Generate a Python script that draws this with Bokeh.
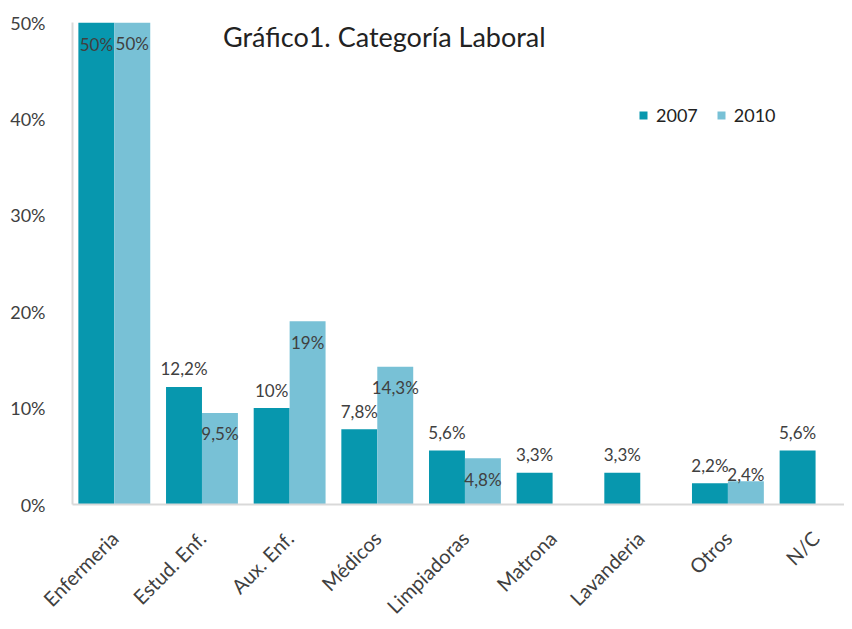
import math
import numpy as np
from bokeh.plotting import figure
from bokeh.models import (ColumnDataSource, Label, Legend, LegendItem, FixedTicker,
                          Range1d, PrintfTickFormatter)
from bokeh.core.properties import value
from bokeh.embed import file_html
from bokeh.resources import INLINE

categories = ["Enfermeria", "Estud. Enf.", "Aux. Enf.", "Médicos", "Limpiadoras",
              "Matrona", "Lavanderia", "Otros", "N/C"]
v2007 = [50, 12.2, 10, 7.8, 5.6, 3.3, 3.3, 2.2, 5.6]
v2010 = [50, 9.5, 19, 14.3, 4.8, None, None, 2.4, None]
series_names = ["2007", "2010"]
y_ticks = [0, 10, 20, 30, 40, 50]
title_text = "Gráfico1. Categoría Laboral"

C07 = "#0797AE"
C10 = "#78C1D6"
TXT = "#404040"
FONT = "Lato"

def fmt(v):
    if float(v).is_integer():
        return f"{v:.0f}%"
    return f"{v:.1f}".replace(".", ",") + "%"

dodge = 0.205
bw = 0.41
idx = np.arange(len(categories))

x07 = [i - dodge for i in idx]
x10 = [i + dodge for i, v in zip(idx, v2010) if v is not None]
t10 = [v for v in v2010 if v is not None]

src07 = ColumnDataSource(dict(x=x07, top=v2007))
src10 = ColumnDataSource(dict(x=x10, top=t10))

p = figure(width=844, height=629, output_backend="svg", toolbar_location=None,
           x_range=Range1d(-0.477, 8.33), y_range=Range1d(0, 50),
           min_border_left=72, min_border_top=22, min_border_bottom=124,
           min_border_right=0)
p.outline_line_color = None
p.xgrid.grid_line_color = None
p.ygrid.grid_line_color = None
p.background_fill_color = "white"

r07 = p.vbar(x="x", top="top", width=bw, source=src07, color=C07, line_color=None)
r10 = p.vbar(x="x", top="top", width=bw, source=src10, color=C10, line_color=None)

# data labels
def split(src_x, tops, labs, cond):
    xs, ys, ls = [], [], []
    for x, t, l in zip(src_x, tops, labs):
        if cond(t):
            xs.append(x); ys.append(t); ls.append(l)
    return ColumnDataSource(dict(x=xs, y=ys, lab=ls))

lab07 = [fmt(v) for v in v2007]
lab10 = [fmt(v) for v in t10]
groups = [
    (split(x07, v2007, lab07, lambda t: t >= 45), 22),
    (split(x07, v2007, lab07, lambda t: t < 45), -18),
    (split(x10, t10, lab10, lambda t: t >= 4), 21),
    (split(x10, t10, lab10, lambda t: t < 4), -7),
]
for s, off in groups:
    p.text(x="x", y="y", text="lab", source=s, text_font=value(FONT),
           text_font_size="17px", text_color=TXT, text_align="center",
           text_baseline="middle", y_offset=off)

# axes
p.xaxis.ticker = FixedTicker(ticks=list(idx))
p.xaxis.major_label_overrides = {int(i): c for i, c in zip(idx, categories)}
p.xaxis.major_label_orientation = math.pi / 4
p.xaxis.major_tick_line_color = None
p.xaxis.minor_tick_line_color = None
p.xaxis.axis_line_color = "#d9d9d9"
p.xaxis.axis_line_width = 2
p.xaxis.major_label_text_font = FONT
p.xaxis.major_label_text_font_size = "20px"
p.xaxis.major_label_text_color = TXT
p.xaxis.major_label_standoff = 24

p.yaxis.ticker = FixedTicker(ticks=y_ticks)
p.yaxis.formatter = PrintfTickFormatter(format="%d%%")
p.yaxis.major_tick_line_color = None
p.yaxis.minor_tick_line_color = None
p.yaxis.axis_line_color = "#d9d9d9"
p.yaxis.axis_line_width = 2
p.yaxis.major_label_text_font = FONT
p.yaxis.major_label_text_font_size = "18px"
p.yaxis.major_label_text_color = TXT
p.yaxis.major_label_standoff = 21

# title inside plot
p.add_layout(Label(x=3.08, y=48.55, text=title_text, text_font=FONT,
                   text_font_size="27px", text_color="#222222",
                   text_align="center", text_baseline="middle"))

legend = Legend(items=[LegendItem(label=series_names[0], renderers=[r07]),
                       LegendItem(label=series_names[1], renderers=[r10])],
                orientation="horizontal", location=(566, 378),
                glyph_width=10, glyph_height=10, label_standoff=8, spacing=18,
                padding=0, margin=0, border_line_color=None,
                background_fill_alpha=0,
                label_text_font=FONT, label_text_font_size="18px",
                label_text_color="#222222")
p.add_layout(legend)

open("out.html", "w").write(file_html(p, INLINE))
